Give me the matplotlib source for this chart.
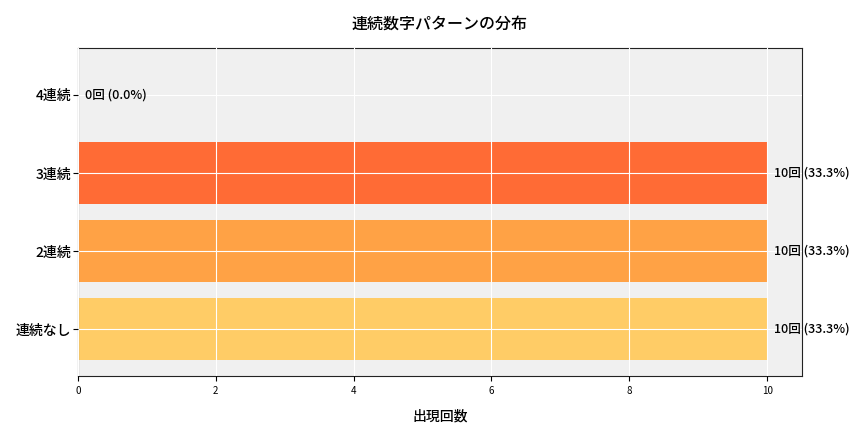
import matplotlib
matplotlib.use("Agg")
import matplotlib.pyplot as plt

plt.rcParams['font.family'] = ['Noto Sans CJK JP', 'DejaVu Sans']

categories = ['連続なし', '2連続', '3連続', '4連続']
counts = [10, 10, 10, 0]
percents = [33.3, 33.3, 33.3, 0.0]
colors = ['#FFCC66', '#FFA245', '#FF6B35', '#FF3B1F']
title = '連続数字パターンの分布'
xlabel = '出現回数'

fig, ax = plt.subplots(figsize=(8.64, 4.32), dpi=100)
ax.set_facecolor('#f0f0f0')
ax.barh(categories, counts, color=colors, height=0.8, zorder=2)
ax.grid(True, color='white', linewidth=0.8, zorder=3)
ax.set_axisbelow(False)
for i, (c, p) in enumerate(zip(counts, percents)):
    ax.text(c + 0.1, i, f'{c}回 ({p}%)', va='center', ha='left', fontsize=9,
            fontweight='medium', zorder=4)
ax.set_xlim(0, 10.5)
ax.set_ylim(-0.6, 3.6)
ax.set_title(title, fontsize=11.5, fontweight='medium', pad=14)
ax.set_xlabel(xlabel, fontsize=10, fontweight='medium', labelpad=10)
ax.tick_params(axis='x', labelsize=7)
ax.tick_params(axis='y', labelsize=10, pad=1.3)
for lbl in ax.get_yticklabels():
    lbl.set_fontweight('medium')
for s in ax.spines.values():
    s.set_color('#222222')
    s.set_linewidth(0.8)
fig.subplots_adjust(left=0.09, right=0.928, top=0.889, bottom=0.13)
fig.savefig('out.png', dpi=100)
